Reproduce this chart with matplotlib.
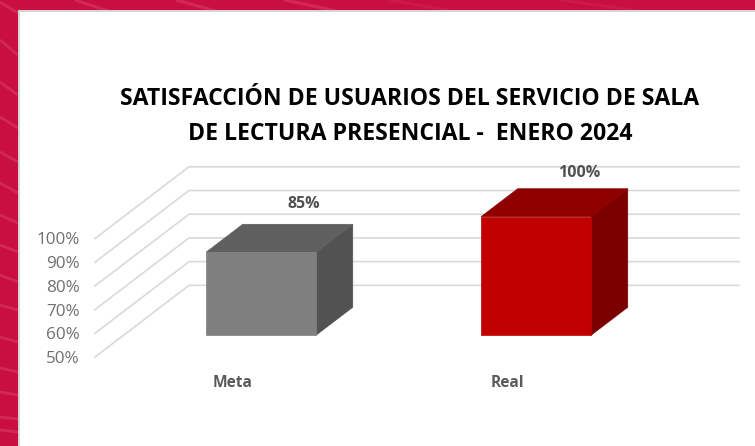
import matplotlib
matplotlib.use("Agg")
import matplotlib.pyplot as plt
from matplotlib.patches import Polygon, Rectangle

categories = ["Meta", "Real"]
values = [85, 100]
value_labels = ["85%", "100%"]
y_ticks = [50, 60, 70, 80, 90, 100]
y_tick_labels = ["50%", "60%", "70%", "80%", "90%", "100%"]

W, H = 755, 446
DEPTH_X = 94 / 275   # category units per full depth
DEPTH_Y = 72 / 2.38  # percent units per full depth
BAR_W = 0.4
D0, D1 = 0.305, 0.694

face = [("#7F7F7F", "#5F5F5F", "#525252"), ("#C00000", "#8F0000", "#7A0000")]
label_off = [15.5, 11]

fig = plt.figure(figsize=(W / 100, H / 100), dpi=100, facecolor="#C90F40")
plt.rcParams["font.family"] = ["Open Sans", "DejaVu Sans"]

bg = fig.add_axes([0, 0, 1, 1])
bg.set_xlim(0, W); bg.set_ylim(H, 0); bg.axis("off")
streak = "#E0567A"
left_streaks = [(2, 13), (40, 55), (82, 95), (117, 128), (152, 162), (183, 193), (215, 223),
                (245, 252), (275, 282), (305, 310), (337, 342), (368, 372), (392, 395),
                (417, 419), (430, 432)]
for y0, y1 in left_streaks:
    bg.plot([0, 18], [y0, y1], color=streak, lw=2.0, alpha=.38, solid_capstyle="butt")
top_streaks = [(75, 108), (176, 216), (284, 337), (390, 450), (560, 640)]
for j, (x0, x1) in enumerate(top_streaks):
    bg.plot([x0, x1], [0, 11], color=streak, lw=2.2, alpha=.38 if j < 3 else .14, solid_capstyle="butt")
bg.add_patch(Rectangle((18.5, 10.5), W, H, fc="white", ec="#D6D6D6", lw=1.4, zorder=5))

fig.text(410 / W, 1 - 99 / H, "SATISFACCIÓN DE USUARIOS DEL SERVICIO DE SALA",
         ha="center", va="center", fontsize=16.6, fontweight="bold", color="black")
fig.text(410 / W, 1 - 134 / H, "DE LECTURA PRESENCIAL -  ENERO 2024",
         ha="center", va="center", fontsize=16.6, fontweight="bold", color="black")

ax = fig.add_axes([95 / W, 1 - 357 / H, 550 / W, (357 - 238.5) / H])
ax.set_xlim(-0.5, 1.5)
ax.set_ylim(50, 100)
ax.patch.set_alpha(0)
for s in ax.spines.values():
    s.set_visible(False)


def proj(x, v, d):
    return (x + d * DEPTH_X, v + d * DEPTH_Y)


for t in y_ticks:
    pts = [proj(-0.5, t, 0), proj(-0.5, t, 1), proj(1.5, t, 1)]
    ax.plot(*zip(*pts), color="#D9D9D9", lw=1.2, clip_on=False, zorder=1,
            solid_joinstyle="miter")

for i, v in enumerate(values):
    l, r = i - BAR_W / 2, i + BAR_W / 2
    front = [proj(l, 50, D0), proj(r, 50, D0), proj(r, v, D0), proj(l, v, D0)]
    top = [proj(l, v, D0), proj(r, v, D0), proj(r, v, D1), proj(l, v, D1)]
    side = [proj(r, 50, D0), proj(r, 50, D1), proj(r, v, D1), proj(r, v, D0)]
    for pts, c in zip((side, top, front), (face[i][2], face[i][1], face[i][0])):
        ax.add_patch(Polygon(pts, closed=True, fc=c, ec=c, lw=0.5, clip_on=False, zorder=3))
    ax.annotate(value_labels[i], proj(i, v, 0.76), xytext=(0, label_off[i] * 0.72),
                textcoords="offset points", ha="center", va="center",
                fontsize=11.5, fontweight="bold", color="#505050", annotation_clip=False, zorder=4)

ax.set_yticks(y_ticks, y_tick_labels, fontsize=12.3, color="#707070")
ax.set_xticks([0, 1], categories, fontsize=11.2, fontweight="bold", color="#5A5A5A")
ax.tick_params(axis="y", length=0, pad=11)
ax.tick_params(axis="x", length=0, pad=13)

fig.savefig("out.png", dpi=100, facecolor=fig.get_facecolor())
